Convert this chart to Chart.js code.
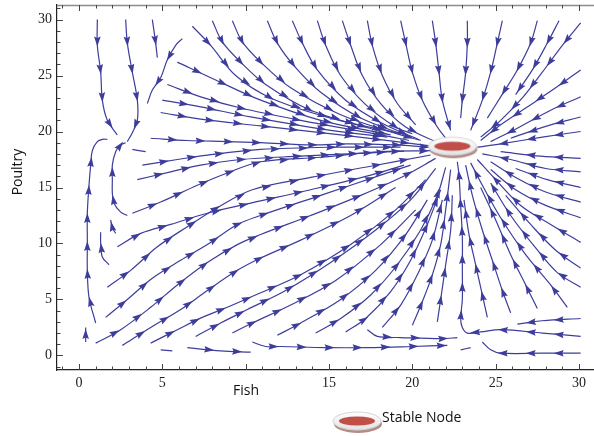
<!DOCTYPE html>
<html><head><meta charset="utf-8">
<script src="https://cdn.jsdelivr.net/npm/chart.js@4.4.1/dist/chart.umd.min.js"></script>
<style>html,body{margin:0;padding:0;background:#fff;}#wrap{width:594px;height:436px;position:relative;}</style>
</head><body><div id="wrap"><canvas id="c" width="594" height="436"></canvas></div>
<script>
// ---- axis ticks ----
const xTicks = [0, 5, 10, 15, 20, 25, 30];
const xTickLabels = ['0', '5', '', '15', '20', '25', '30'];
const yTicks = [0, 5, 10, 15, 20, 25, 30];
const yTickLabels = ['0', '5', '10', '15', '20', '25', '30'];

// ---- equilibrium (Fish, Poultry) ----
const stableNode = [22.4, 18.6];

// ---- streamlines, each a list of [Fish, Poultry] points in flow order ----
const streamsTopLeft = [
  [[1.1,30.0],[1.1,27.7],[1.3,25.3],[1.4,22.8],[1.7,21.0],[2.3,19.7]],
  [[2.8,30.0],[2.9,27.9],[3.2,25.3],[3.5,22.8],[3.5,21.0],[3.2,19.9],[2.9,19.1]],
  [[4.4,30.0],[4.6,27.9],[4.7,26.6]],
  [[6.2,28.3],[5.8,27.7],[5.3,26.4],[4.9,24.8],[4.4,23.7],[4.1,22.5]],
  [[1.0,2.9],[0.6,5.2],[0.5,7.6],[0.5,10.1],[0.5,12.7],[0.6,15.2],[0.7,17.0],[0.8,18.3],[1.1,19.1],[1.4,19.3],[1.7,19.3]],
  [[2.9,12.5],[2.5,12.8],[2.1,13.6],[2.0,14.5],[2.0,15.7],[2.0,17.0],[2.2,18.2],[2.5,18.8],[2.8,19.0]],
  [[3.2,18.4],[4.0,18.2]],
  [[2.2,10.9],[2.0,11.4],[1.9,12.1]],
  [[1.8,8.1],[1.4,8.8],[1.3,10.1],[1.3,11.0]],
  [[0.4,1.2],[0.4,2.5]],
  [[4.3,19.4],[6.5,19.2],[8.9,19.1],[10.9,19.0],[14.0,18.8],[16.1,18.9],[19.1,18.8],[20.9,18.6],[21.4,18.6]]
];
const streamsUpperLeft = [
  [[5.9,26.2],[8.2,24.6],[10.9,22.8],[14.5,21.0],[18.7,19.7]],
  [[5.3,24.2],[7.3,23.1],[9.7,22.1],[13.3,21.0],[18.1,19.7],[19.8,19.2]],
  [[5.0,22.8],[7.3,22.2],[10.3,21.3],[15.1,20.1],[18.5,19.5]],
  [[4.9,21.7],[7.3,21.1],[10.9,20.5],[15.7,19.7],[21.2,18.7]],
  [[6.8,29.4],[7.9,27.7],[9.4,25.0],[11.5,23.0],[15.1,21.2],[19.3,19.8]],
  [[8.0,29.9],[8.6,28.0],[9.7,26.2],[11.2,24.2],[13.9,21.9],[18.1,20.0]],
  [[9.2,29.9],[9.8,28.0],[10.9,26.2],[12.7,23.9],[15.7,21.5],[19.3,19.7],[20.4,19.25]],
  [[11.3,29.9],[11.9,27.9],[13.0,25.7],[14.5,23.5],[16.9,21.2],[19.9,19.5]]
];
const streamsTop = [
  [[12.8,29.9],[13.4,27.9],[14.3,25.5],[16.0,22.8],[18.1,20.8],[20.5,19.2]],
  [[14.3,29.9],[14.8,27.7],[15.7,25.0],[17.2,22.4],[19.0,20.4],[20.0,19.8]],
  [[15.8,29.9],[16.3,27.7],[17.0,25.0],[18.1,22.5],[19.6,20.4],[21.4,19.1]],
  [[17.3,29.9],[17.6,27.7],[18.2,25.0],[19.1,22.5],[20.2,20.6]],
  [[19.3,29.9],[19.6,27.9],[20.0,25.3],[20.6,22.8],[21.5,20.4],[22.0,19.4]],
  [[21.2,29.9],[21.4,27.9],[21.6,25.3],[21.8,22.8],[22.3,20.1]],
  [[23.3,29.9],[23.3,27.9],[23.2,25.3],[23.0,22.8],[22.9,21.2]],
  [[25.4,29.9],[25.1,27.9],[24.7,25.3],[24.2,22.8],[23.5,20.1]],
  [[27.5,29.9],[27.1,27.9],[26.3,25.5],[25.3,23.1],[24.5,21.2]],
  [[28.8,29.9],[28.1,27.9],[27.2,25.5],[26.2,23.3]],
  [[30.1,29.7],[29.0,27.7],[27.8,25.3],[26.6,23.0],[25.3,21.0],[24.1,19.5]]
];
const streamsRight = [
  [[30.1,25.5],[28.6,23.9],[26.8,22.1],[25.3,20.6],[24.1,19.2]],
  [[30.1,23.1],[28.3,21.9],[26.3,20.3],[24.7,19.1]],
  [[30.1,21.3],[28.1,20.5],[25.9,19.4]],
  [[30.1,20.0],[27.8,19.5],[25.3,18.9],[23.9,18.6]],
  [[30.1,17.6],[27.7,17.8],[25.3,18.2]],
  [[30.1,16.4],[28.0,16.7],[25.9,17.5],[24.2,18.0]],
  [[30.1,15.0],[28.1,15.7],[26.2,16.7]],
  [[30.1,13.7],[28.0,14.6],[26.2,15.9],[24.7,17.3]],
  [[30.1,12.3],[28.0,13.4],[26.2,14.8],[24.7,16.6]],
  [[30.1,10.1],[28.3,11.7],[26.5,13.4],[25.0,15.7],[23.9,17.5]],
  [[30.1,7.8],[28.6,9.4],[27.1,11.7],[25.6,14.3]],
  [[30.1,6.1],[28.7,7.4],[27.4,9.6],[25.9,12.5],[24.7,15.4]],
  [[29.3,4.3],[28.3,6.3],[26.8,9.0],[25.3,12.3],[24.2,15.2],[23.5,17.2]]
];
const streamsBelow = [
  [[27.5,4.2],[26.8,6.3],[25.9,9.0],[25.0,12.1],[24.1,15.0]],
  [[25.9,3.8],[25.4,5.8],[24.8,8.5],[24.2,11.2],[23.6,14.3],[23.2,17.0]],
  [[24.5,3.4],[24.2,5.4],[23.8,8.1],[23.4,10.8],[23.1,13.9]],
  [[30.1,1.7],[27.8,2.0],[25.3,2.3],[24.1,2.1],[23.3,2.0],[23.0,2.5],[22.9,3.3],[23.0,5.0],[23.0,7.6],[23.0,10.6],[22.9,13.4],[22.8,16.1],[22.7,17.3]],
  [[21.5,3.0],[21.7,5.0],[22.0,8.1],[22.3,11.2],[22.4,14.3]],
  [[20.0,2.7],[20.6,4.8],[21.2,7.2],[21.7,9.9],[22.0,13.0],[22.3,16.6]],
  [[18.2,2.5],[19.3,4.5],[20.3,7.2],[21.2,10.3],[21.8,13.9]],
  [[16.0,2.1],[17.2,3.3],[18.7,5.7],[19.9,8.5],[20.9,11.7],[21.7,14.8]],
  [[14.2,2.0],[15.7,3.3],[17.5,5.4],[19.1,8.1],[20.5,11.2],[21.5,14.3],[22.0,16.8]],
  [[11.9,1.8],[13.3,2.9],[15.7,5.0],[17.8,7.6],[19.6,10.8],[20.9,13.9]]
];
const streamsDiagonal = [
  [[1.0,1.1],[2.5,2.3],[4.3,4.3],[5.9,6.3],[7.7,8.3],[9.5,9.9],[10.9,10.8],[13.9,12.5],[16.9,14.3],[19.6,16.1],[21.4,17.6]],
  [[2.6,0.9],[4.3,2.5],[6.1,4.1],[7.7,5.8],[9.5,7.6],[10.9,8.7],[13.3,10.3],[16.3,12.5],[19.0,15.0]],
  [[4.3,1.1],[5.9,2.3],[7.4,3.4],[8.9,4.3],[10.9,5.6],[13.3,7.2],[16.3,9.9],[19.0,13.0],[20.8,15.7]],
  [[7.0,1.7],[8.5,2.9],[10.1,4.1],[12.4,5.8],[15.1,8.3],[17.8,11.2],[19.9,13.9],[21.4,16.7]],
  [[9.2,2.0],[10.4,2.9],[12.7,4.5],[15.4,6.7],[18.1,9.9],[20.2,13.0]],
  [[1.6,3.4],[2.9,5.0],[4.4,6.9],[6.1,8.5],[7.7,9.9],[9.5,11.7],[10.9,12.5],[14.5,14.3],[18.1,16.1],[19.9,17.0]],
  [[1.7,6.1],[3.1,7.6],[4.7,9.7],[6.5,11.5],[8.3,13.2],[10.4,14.8],[13.9,15.9],[17.5,16.9],[21.1,17.9]],
  [[2.3,9.7],[3.7,10.9],[5.5,11.7],[7.7,12.7],[10.3,13.6],[13.9,14.8],[17.5,16.1],[19.5,17.0]],
  [[3.2,12.7],[4.9,13.7],[7.1,15.2],[8.9,16.3],[10.9,17.3],[14.5,17.7],[18.1,18.2],[21.2,18.3]],
  [[3.5,15.7],[5.5,16.4],[7.3,17.0],[9.7,17.5],[13.3,17.8],[17.5,18.1],[19.5,18.25]],
  [[3.8,17.0],[5.9,17.5],[7.7,17.9],[10.9,18.4],[15.1,18.6],[19.3,18.6]]
];
const streamsBottom = [
  [[4.9,0.5],[5.6,0.4]],
  [[6.5,0.7],[8.5,0.4],[10.3,0.3]],
  [[10.4,1.2],[11.2,0.8],[12.1,0.8],[14.8,0.7],[17.3,0.7],[20.0,0.8],[22.1,0.9]],
  [[22.9,0.5],[23.5,0.7]],
  [[17.3,2.3],[17.9,1.7],[19.3,1.6],[21.8,1.5],[22.7,1.6]],
  [[30.1,3.3],[27.8,3.1],[26.3,2.8]],
  [[30.1,0.2],[27.8,0.2],[25.3,0.2],[24.7,0.5],[24.2,1.2]]
];

const LINE_COLOR = '#3d3d9c';

function makeNodeImage() {
  const c = document.createElement('canvas');
  c.width = 54; c.height = 30;
  const g = c.getContext('2d');
  g.fillStyle = 'rgb(178,140,134)';
  g.beginPath(); g.ellipse(28, 17, 24, 9, 0, 0, Math.PI * 2); g.fill();
  const grad = g.createLinearGradient(0, 5, 0, 23);
  grad.addColorStop(0, '#ffffff'); grad.addColorStop(1, '#e2e2e2');
  g.fillStyle = grad;
  g.beginPath(); g.ellipse(27, 14, 24, 9, 0, 0, Math.PI * 2); g.fill();
  g.strokeStyle = '#d4d4d4'; g.lineWidth = 1; g.stroke();
  g.fillStyle = 'rgb(193,78,72)';
  g.beginPath(); g.ellipse(27, 14, 18, 4.5, 0, 0, Math.PI * 2); g.fill();
  return c;
}
const nodeImg = makeNodeImage();

function drawArrows(ctx, pts) {
  const lens = []; let total = 0;
  for (let i = 1; i < pts.length; i++) {
    const l = Math.hypot(pts[i].x - pts[i-1].x, pts[i].y - pts[i-1].y);
    lens.push(l); total += l;
  }
  if (total < 14) return;
  let s = Math.min(22, total * 0.55);
  ctx.save();
  ctx.fillStyle = LINE_COLOR;
  while (s <= total - 5) {
    let acc = 0, i = 0;
    while (i < lens.length - 1 && acc + lens[i] < s) { acc += lens[i]; i++; }
    const t = lens[i] > 0 ? (s - acc) / lens[i] : 0;
    const p0 = pts[i], p1 = pts[i+1];
    const x = p0.x + (p1.x - p0.x) * t, y = p0.y + (p1.y - p0.y) * t;
    const a = Math.atan2(p1.y - p0.y, p1.x - p0.x);
    ctx.save(); ctx.translate(x, y); ctx.rotate(a);
    ctx.beginPath(); ctx.moveTo(5, 0); ctx.lineTo(-5, -3.3); ctx.lineTo(-3.6, 0); ctx.lineTo(-5, 3.3); ctx.closePath(); ctx.fill();
    ctx.restore();
    s += 28;
  }
  ctx.restore();
}

const allStreams = [].concat(streamsTopLeft, streamsUpperLeft, streamsTop, streamsRight, streamsBelow, streamsDiagonal, streamsBottom);
const datasets = allStreams.map(s => ({
  data: s.map(p => ({x: p[0], y: p[1]})),
  showLine: true, borderColor: LINE_COLOR, borderWidth: 1.2,
  pointRadius: 0, tension: 0.35, fill: false, isStream: true, order: 1
}));
datasets.push({
  data: [{x: stableNode[0], y: stableNode[1]}],
  pointStyle: nodeImg, pointRadius: 10, showLine: false, order: -1, clip: false
});

const decor = {
  id: 'decor',
  afterDatasetDraw(chart, args) {
    const ds = chart.data.datasets[args.index];
    if (!ds.isStream) return;
    drawArrows(chart.ctx, args.meta.data.map(e => ({x: e.x, y: e.y})));
  },
  afterDraw(chart) {
    const ctx = chart.ctx, xs = chart.scales.x, ys = chart.scales.y, ca = chart.chartArea;
    ctx.save();
    ctx.strokeStyle = '#8c8c8c'; ctx.lineWidth = 1.5;
    ctx.beginPath(); ctx.moveTo(ca.left, ca.top + 0.5); ctx.lineTo(ca.right, ca.top + 0.5); ctx.stroke();
    ctx.strokeStyle = '#444'; ctx.lineWidth = 1;
    for (let v = Math.ceil(xs.min); v <= Math.floor(xs.max); v++) {
      const px = Math.round(xs.getPixelForValue(v)) + 0.5;
      const L = v % 5 === 0 ? 6 : 3.5;
      ctx.beginPath(); ctx.moveTo(px, ca.bottom); ctx.lineTo(px, ca.bottom - L);
      ctx.moveTo(px, ca.top); ctx.lineTo(px, ca.top + L); ctx.stroke();
    }
    for (let v = Math.ceil(ys.min); v <= Math.floor(ys.max); v++) {
      const py = Math.round(ys.getPixelForValue(v)) + 0.5;
      const L = v % 5 === 0 ? 6 : 3.5;
      ctx.beginPath(); ctx.moveTo(ca.left, py); ctx.lineTo(ca.left + L, py); ctx.stroke();
    }
    ctx.fillStyle = '#111';
    ctx.font = '14px "Open Sans"';
    ctx.textAlign = 'center'; ctx.textBaseline = 'middle';
    ctx.fillText('Fish', 246, 391);
    ctx.save(); ctx.translate(18, 172); ctx.rotate(-Math.PI / 2);
    ctx.fillText('Poultry', 0, 0); ctx.restore();
    ctx.drawImage(nodeImg, 330, 407);
    ctx.textAlign = 'left';
    ctx.fillText('Stable Node', 382, 418);
    ctx.restore();
  }
};

function zeroPad(s) { s.paddingLeft = 0; s.paddingRight = 0; s.paddingTop = 0; s.paddingBottom = 0; }

new Chart(document.getElementById('c'), {
  type: 'scatter',
  data: { datasets },
  options: {
    responsive: false, animation: false, devicePixelRatio: 1, events: [],
    layout: { autoPadding: false, padding: { top: 5, right: 0, left: 0, bottom: 0 } },
    plugins: { legend: { display: false }, tooltip: { enabled: false } },
    scales: {
      x: {
        type: 'linear', min: -1.32, max: 30.9,
        grid: { display: false, drawTicks: false },
        border: { display: true, color: '#222', width: 1.2 },
        afterBuildTicks: s => { s.ticks = xTicks.map(v => ({value: v})); },
        afterFit: s => { s.height = 66; zeroPad(s); },
        ticks: {
          autoSkip: false, maxRotation: 0, padding: 5, color: '#222',
          font: { family: '"Liberation Serif"', size: 14 },
          callback: (v, i) => xTickLabels[i]
        }
      },
      y: {
        type: 'linear', min: -1.3, max: 31.3,
        grid: { display: false, drawTicks: false },
        border: { display: true, color: '#222', width: 1.2 },
        afterBuildTicks: s => { s.ticks = yTicks.map(v => ({value: v})); },
        afterFit: s => { s.width = 57; zeroPad(s); },
        ticks: {
          autoSkip: false, padding: 5, color: '#222',
          font: { family: '"Liberation Serif"', size: 14 },
          callback: (v, i) => yTickLabels[i]
        }
      }
    }
  },
  plugins: [decor]
});
</script>
</body></html>
